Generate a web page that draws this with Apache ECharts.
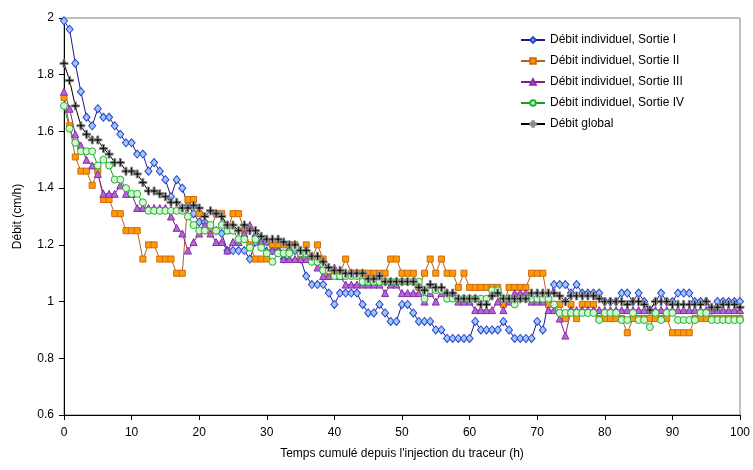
<!DOCTYPE html>
<html>
<head>
<meta charset="utf-8">
<script src="https://cdn.jsdelivr.net/npm/echarts@6/dist/echarts.min.js"></script>
<style>
html,body{margin:0;padding:0;background:#fff;}
#c{width:753px;height:470px;}
</style>
</head>
<body>
<div id="c"></div>
<script>
// Time (h), one sample every 50 min
const times = [
0,0.83,1.67,2.5,3.33,4.17,5,5.83,6.67,7.5,
8.33,9.17,10,10.83,11.67,12.5,13.33,14.17,15,15.83,
16.67,17.5,18.33,19.17,20,20.83,21.67,22.5,23.33,24.17,
25,25.83,26.67,27.5,28.33,29.17,30,30.83,31.67,32.5,
33.33,34.17,35,35.83,36.67,37.5,38.33,39.17,40,40.83,
41.67,42.5,43.33,44.17,45,45.83,46.67,47.5,48.33,49.17,
50,50.83,51.67,52.5,53.33,54.17,55,55.83,56.67,57.5,
58.33,59.17,60,60.83,61.67,62.5,63.33,64.17,65,65.83,
66.67,67.5,68.33,69.17,70,70.83,71.67,72.5,73.33,74.17,
75,75.83,76.67,77.5,78.33,79.17,80,80.83,81.67,82.5,
83.33,84.17,85,85.83,86.67,87.5,88.33,89.17,90,90.83,
91.67,92.5,93.33,94.17,95,95.83,96.67,97.5,98.33,99.17,
100];

const sortieI = [
1.99,1.96,1.84,1.74,1.65,1.62,1.68,1.65,1.65,1.62,
1.59,1.56,1.56,1.52,1.52,1.46,1.49,1.46,1.43,1.37,
1.43,1.40,1.34,1.31,1.28,1.28,1.25,1.25,1.24,1.18,
1.18,1.18,1.18,1.15,1.21,1.21,1.21,1.18,1.18,1.15,
1.18,1.18,1.15,1.09,1.06,1.06,1.06,1.03,0.99,1.03,
1.03,1.03,1.03,0.99,0.96,0.96,0.99,0.96,0.93,0.93,
0.99,0.99,0.96,0.93,0.93,0.93,0.90,0.90,0.87,0.87,
0.87,0.87,0.87,0.93,0.90,0.90,0.90,0.90,0.93,0.90,
0.87,0.87,0.87,0.87,0.93,0.90,1.00,1.06,1.06,1.06,
1.03,1.06,1.03,1.03,1.03,1.03,1.00,1.00,1.00,1.03,
1.03,1.00,1.03,1.00,0.97,1.00,1.03,1.00,1.00,1.03,
1.03,1.03,1.00,1.00,1.00,0.97,1.00,1.00,1.00,1.00,
1.00];

const sortieII = [
1.72,1.62,1.51,1.46,1.46,1.41,1.46,1.36,1.36,1.31,
1.31,1.25,1.25,1.25,1.15,1.20,1.20,1.15,1.15,1.15,
1.10,1.10,1.36,1.36,1.31,1.25,1.25,1.31,1.31,1.25,
1.31,1.31,1.25,1.20,1.15,1.15,1.15,1.20,1.20,1.20,
1.20,1.20,1.15,1.20,1.15,1.20,1.15,1.10,1.10,1.10,
1.15,1.10,1.10,1.10,1.10,1.10,1.10,1.10,1.15,1.15,
1.10,1.10,1.10,1.05,1.10,1.15,1.10,1.15,1.10,1.10,
1.05,1.10,1.05,1.05,1.05,1.05,1.05,1.05,0.99,1.05,
1.05,1.05,1.05,1.10,1.10,1.10,0.99,0.99,0.99,0.94,
0.99,0.94,0.99,0.99,0.99,0.94,0.94,0.94,0.94,0.94,
0.89,0.94,0.94,0.94,0.94,0.94,0.94,0.94,0.89,0.89,
0.89,0.89,0.94,0.94,0.94,0.94,0.94,0.94,0.94,0.94,
0.94];

const sortieIII = [
1.74,1.68,1.59,1.55,1.50,1.48,1.45,1.38,1.38,1.38,
1.41,1.38,1.38,1.33,1.33,1.33,1.33,1.33,1.33,1.30,
1.26,1.24,1.18,1.21,1.24,1.27,1.24,1.21,1.21,1.18,
1.21,1.21,1.24,1.27,1.24,1.21,1.18,1.18,1.18,1.15,
1.15,1.15,1.15,1.15,1.15,1.12,1.09,1.09,1.12,1.09,
1.06,1.06,1.06,1.06,1.06,1.06,1.06,1.03,1.06,1.06,
1.03,1.03,1.03,1.03,1.00,1.03,1.00,1.03,1.03,1.03,
1.00,1.00,1.00,0.97,0.97,0.97,0.97,1.00,0.97,1.00,
1.03,1.03,1.03,1.00,1.00,1.00,0.97,0.97,0.94,0.88,
0.97,0.97,0.97,0.97,0.97,0.97,0.97,0.97,0.97,0.97,
0.97,0.97,0.97,0.97,0.97,0.97,0.97,0.97,0.97,0.97,
0.97,0.97,0.97,0.97,0.97,0.97,0.97,0.97,0.97,0.97,
0.97];

const sortieIV = [
1.69,1.61,1.56,1.53,1.53,1.53,1.48,1.50,1.48,1.43,
1.43,1.40,1.38,1.38,1.35,1.32,1.32,1.32,1.32,1.32,
1.32,1.32,1.30,1.27,1.25,1.25,1.27,1.25,1.27,1.25,
1.25,1.22,1.22,1.19,1.22,1.19,1.17,1.14,1.17,1.17,
1.17,1.19,1.17,1.17,1.14,1.14,1.11,1.11,1.09,1.09,
1.09,1.09,1.09,1.07,1.07,1.07,1.07,1.07,1.07,1.07,
1.07,1.07,1.07,1.07,1.01,1.04,1.04,1.04,1.01,1.01,
1.01,1.01,1.01,1.01,1.01,1.01,1.04,1.04,1.01,1.01,
0.99,1.01,1.01,1.01,1.01,1.01,1.01,0.99,0.96,0.96,
0.96,0.96,0.96,0.96,0.96,0.935,0.96,0.96,0.96,0.935,
0.935,0.96,0.935,0.935,0.91,0.96,0.935,0.96,0.96,0.935,
0.935,0.935,0.935,0.96,0.96,0.935,0.935,0.935,0.935,0.935,
0.935];

const globalFlow = [
1.84,1.78,1.69,1.62,1.59,1.57,1.57,1.54,1.52,1.49,
1.49,1.46,1.46,1.45,1.42,1.39,1.39,1.38,1.37,1.35,
1.35,1.33,1.33,1.34,1.33,1.30,1.32,1.31,1.30,1.27,
1.27,1.25,1.27,1.25,1.25,1.23,1.22,1.22,1.22,1.21,
1.20,1.20,1.18,1.18,1.16,1.16,1.14,1.12,1.11,1.11,
1.10,1.10,1.10,1.10,1.08,1.08,1.09,1.07,1.07,1.07,
1.07,1.07,1.07,1.05,1.04,1.06,1.05,1.05,1.03,1.03,
1.01,1.01,1.01,1.01,0.99,0.99,1.02,1.03,1.01,1.01,
1.01,1.01,1.01,1.03,1.03,1.03,1.03,1.03,1.02,1.00,
1.02,1.02,1.02,1.02,1.02,1.01,1.00,1.00,1.00,1.00,
0.99,1.00,1.00,0.99,0.97,1.00,1.00,1.00,0.99,0.99,
0.99,0.99,0.99,0.99,1.00,0.98,0.98,0.99,0.99,0.99,
0.98];

const seriesNames = [
  'Débit individuel, Sortie I',
  'Débit individuel, Sortie II',
  'Débit individuel, Sortie III',
  'Débit individuel, Sortie IV',
  'Débit global'
];
const xTitle = "Temps cumulé depuis l'injection du traceur (h)";
const yTitle = 'Débit (cm/h)';

const FONT = 'Liberation Sans, Arial, sans-serif';
function pairs(vals){ return times.map((t,i)=>[t, vals[i]]); }

const styles = [
  {data: sortieI, symbol:'diamond', size:[7,8], line:'#1a1a8c', fill:'#9cc8ff', border:'#2a44c8'},
  {data: sortieII, symbol:'rect', size:6, line:'#b8601a', fill:'#ff9a00', border:'#d06a10'},
  {data: sortieIII, symbol:'triangle', size:7, line:'#8a1a9a', fill:'#b068d8', border:'#8a2aa8'},
  {data: sortieIV, symbol:'circle', size:7, line:'#10a020', fill:'#d4f8d4', border:'#20b030'},
  {data: globalFlow, symbol:'path://M3,0H5V3H8V5H5V8H3V5H0V3H3Z', size:8, line:'#000000', fill:'#111111', border:'#8a8a8a'}
];

const chart = echarts.init(document.getElementById('c'), null, {renderer:'canvas'});
chart.setOption({
  animation: false,
  backgroundColor: '#ffffff',
  textStyle: {fontFamily: FONT},
  grid: {left: 64, right: 11, top: 18, bottom: 55, show: true, borderColor: '#808080', borderWidth: 1, backgroundColor: 'transparent'},
  legend: {
    orient: 'vertical', left: 515, top: 29,
    itemWidth: 24, itemHeight: 7, itemGap: 9,
    textStyle: {fontFamily: FONT, fontSize: 12, color: '#000'},
    data: seriesNames
  },
  xAxis: {
    type: 'value', min: 0, max: 100, interval: 10,
    name: xTitle, nameLocation: 'middle', nameGap: 33,
    nameTextStyle: {fontFamily: FONT, fontSize: 12, color: '#000'},
    axisLine: {show: true, onZero: false, lineStyle: {color: '#000', width: 1}},
    axisTick: {show: true, length: 5, lineStyle: {color: '#000'}},
    axisLabel: {color: '#000', fontSize: 12, fontFamily: FONT, margin: 12},
    splitLine: {show: false}
  },
  yAxis: {
    type: 'value', min: 0.6, max: 2, interval: 0.2,
    name: yTitle, nameLocation: 'middle', nameGap: 40, nameRotate: 90,
    nameTextStyle: {fontFamily: FONT, fontSize: 12, color: '#000'},
    axisLine: {show: true, onZero: false, lineStyle: {color: '#000', width: 1}},
    axisTick: {show: true, length: 5, lineStyle: {color: '#000'}},
    axisLabel: {color: '#000', fontSize: 12, fontFamily: FONT, margin: 10,
      formatter: v => String(Math.round(v*10)/10)},
    splitLine: {show: false}
  },
  series: styles.map((s, k) => ({
    name: seriesNames[k],
    type: 'line',
    data: pairs(s.data),
    symbol: s.symbol,
    symbolSize: s.size,
    showAllSymbol: true,
    lineStyle: {color: s.line, width: 1},
    itemStyle: {color: s.fill, borderColor: s.border, borderWidth: 1},
    emphasis: {disabled: true}
  }))
});
</script>
</body>
</html>
